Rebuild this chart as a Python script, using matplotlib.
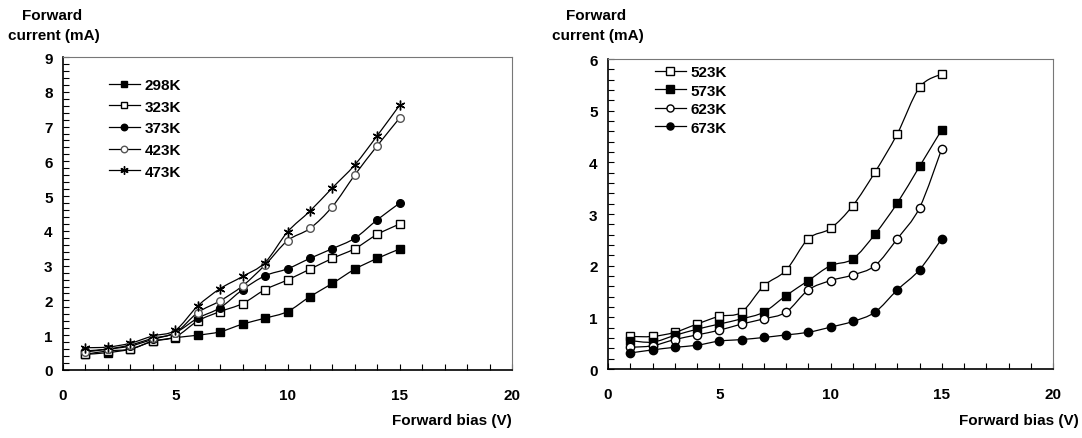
import numpy as np
import matplotlib
matplotlib.use("Agg")
import matplotlib.pyplot as plt
from matplotlib.path import Path
from matplotlib.patches import PathPatch
from matplotlib.ticker import MultipleLocator

plt.rcParams['font.family'] = ['Liberation Sans', 'DejaVu Sans']
plt.rcParams['font.weight'] = 'bold'

bias = [1, 2, 3, 4, 5, 6, 7, 8, 9, 10, 11, 12, 13, 14, 15]

# Left panel
i_298 = [0.45, 0.50, 0.60, 0.82, 0.93, 1.00, 1.10, 1.32, 1.49, 1.68, 2.11, 2.49, 2.90, 3.21, 3.48]
i_323 = [0.45, 0.55, 0.60, 0.83, 0.95, 1.41, 1.68, 1.91, 2.31, 2.59, 2.90, 3.21, 3.49, 3.90, 4.20]
i_373 = [0.55, 0.60, 0.69, 0.88, 1.07, 1.49, 1.79, 2.31, 2.71, 2.91, 3.21, 3.49, 3.79, 4.32, 4.80]
i_423 = [0.52, 0.60, 0.72, 0.91, 1.07, 1.65, 1.99, 2.42, 3.02, 3.72, 4.07, 4.70, 5.61, 6.45, 7.25]
i_473 = [0.64, 0.66, 0.77, 0.98, 1.14, 1.84, 2.34, 2.69, 3.09, 3.97, 4.57, 5.24, 5.90, 6.74, 7.62]

# Right panel
i_523 = [0.63, 0.63, 0.71, 0.87, 1.02, 1.10, 1.61, 1.91, 2.52, 2.72, 3.16, 3.81, 4.55, 5.45, 5.71]
i_573 = [0.55, 0.52, 0.65, 0.77, 0.87, 0.97, 1.10, 1.42, 1.71, 2.00, 2.13, 2.61, 3.21, 3.92, 4.63]
i_623 = [0.42, 0.45, 0.57, 0.66, 0.75, 0.87, 0.97, 1.10, 1.53, 1.71, 1.82, 2.00, 2.52, 3.12, 4.26]
i_673 = [0.31, 0.37, 0.42, 0.46, 0.54, 0.57, 0.61, 0.66, 0.71, 0.81, 0.92, 1.10, 1.53, 1.92, 2.52]

left_series = [("298K", i_298), ("323K", i_323), ("373K", i_373), ("423K", i_423), ("473K", i_473)]
right_series = [("523K", i_523), ("573K", i_573), ("623K", i_623), ("673K", i_673)]

styles = {
    "298K": dict(marker='s', mfc='black', mec='black', ms=5.5),
    "323K": dict(marker='s', mfc='white', mec='black', ms=5.5),
    "373K": dict(marker='o', mfc='black', mec='black', ms=5.5),
    "423K": dict(marker='o', mfc='white', mec='#555555', ms=5.5),
    "473K": dict(marker=(6, 2, 0), mfc='black', mec='black', ms=7, mew=1.0),
    "523K": dict(marker='s', mfc='white', mec='black', ms=6),
    "573K": dict(marker='s', mfc='black', mec='black', ms=6),
    "623K": dict(marker='o', mfc='white', mec='black', ms=6),
    "673K": dict(marker='o', mfc='black', mec='black', ms=6),
}


def smooth_path(x, y):
    x = np.asarray(x, float)
    y = np.asarray(y, float)
    pts = np.column_stack([x, y])
    n = len(pts)
    verts = [pts[0]]
    codes = [Path.MOVETO]
    for i in range(n - 1):
        p0 = pts[i - 1] if i > 0 else pts[i]
        p1 = pts[i]
        p2 = pts[i + 1]
        p3 = pts[i + 2] if i + 2 < n else pts[i + 1]
        c1 = p1 + (p2 - p0) / 6.0
        c2 = p2 - (p3 - p1) / 6.0
        verts += [c1, c2, p2]
        codes += [Path.CURVE4] * 3
    return Path(verts, codes)


W, H = 1082, 439
fig = plt.figure(figsize=(W / 100, H / 100), dpi=100)


def make_axes(l, r, t, b, ymax, series, legend_xy, lspacing):
    ax = fig.add_axes([l / W, 1 - b / H, (r - l) / W, (b - t) / H])
    for name, vals in series:
        st = styles[name]
        patch = PathPatch(smooth_path(bias, vals), fill=False, edgecolor='black', lw=0.9,
                          transform=ax.transData, zorder=2)
        ax.add_patch(patch)
        ax.plot(bias, vals, linestyle='none', zorder=3, **st)
    handles = []
    for name, vals in series:
        st = dict(styles[name])
        st['ms'] = st['ms'] * 0.85
        h, = ax.plot([], [], color='black', lw=0.9, **st)
        handles.append(h)
    ax.legend(handles, [n for n, _ in series], loc='upper left',
              bbox_to_anchor=(legend_xy[0] / W, 1 - legend_xy[1] / H),
              bbox_transform=fig.transFigure, frameon=False, borderpad=0,
              borderaxespad=0, handlelength=2.0, handletextpad=0.35,
              labelspacing=lspacing, prop=dict(size=11, weight='bold'))
    ax.set_xlim(0, 20)
    ax.set_ylim(0, ymax)
    ax.xaxis.set_major_locator(MultipleLocator(5))
    ax.xaxis.set_minor_locator(MultipleLocator(1))
    ax.yaxis.set_major_locator(MultipleLocator(1))
    ax.yaxis.set_minor_locator(MultipleLocator(0.2))
    ax.tick_params(which='both', direction='in', length=4, width=0.8, top=False, right=False,
                   labelsize=11)
    ax.tick_params(axis='x', which='both', pad=13)
    ax.tick_params(axis='y', which='both', pad=7.5)
    for lab in ax.get_xticklabels() + ax.get_yticklabels():
        lab.set_fontweight('bold')
    ax.spines['left'].set_linewidth(1.2)
    ax.spines['bottom'].set_linewidth(1.2)
    ax.spines['top'].set_color('#777777')
    ax.spines['right'].set_color('#777777')
    return ax


ax1 = make_axes(63, 512, 58, 371, 9, left_series, (109, 79), 0.5)
ax2 = make_axes(608, 1053, 60, 370, 6, right_series, (655, 66), 0.3)

fs = 11
fig.text(52 / W, 1 - 16 / H, "Forward", ha='center', va='center', fontsize=fs, fontweight='bold')
fig.text(54 / W, 1 - 36 / H, "current (mA)", ha='center', va='center', fontsize=fs, fontweight='bold')
fig.text(596 / W, 1 - 16 / H, "Forward", ha='center', va='center', fontsize=fs, fontweight='bold')
fig.text(598 / W, 1 - 36 / H, "current (mA)", ha='center', va='center', fontsize=fs, fontweight='bold')
fig.text(512 / W, 1 - 421 / H, "Forward bias (V)", ha='right', va='center', fontsize=fs, fontweight='bold')
fig.text(1079 / W, 1 - 421 / H, "Forward bias (V)", ha='right', va='center', fontsize=fs, fontweight='bold')

fig.savefig("out.png", dpi=100)
